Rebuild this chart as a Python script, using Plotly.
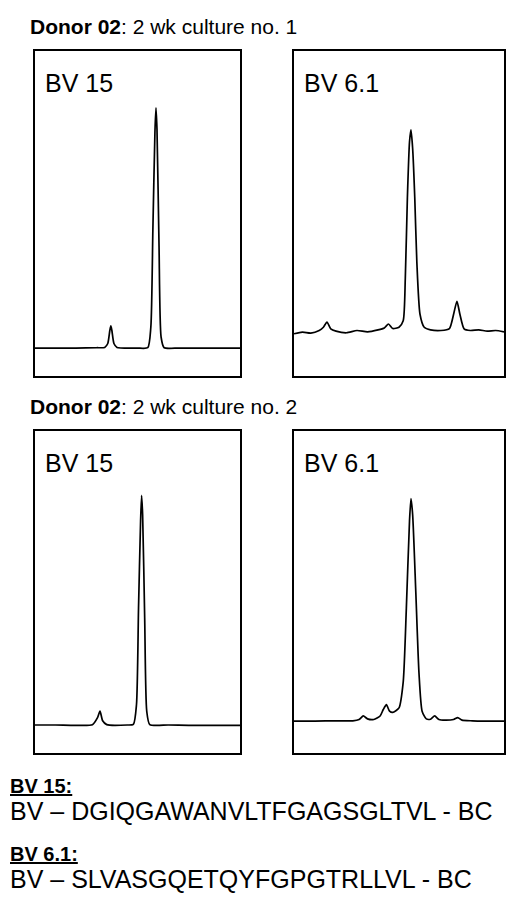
import plotly.graph_objects as go

W, H = 520, 911

# trace data (x: relative size position 0-100, y: relative intensity 0-100)
p1_x = [0,10,20,30,34,35.5,36.5,37,37.5,38.5,40,50,55,56.5,57.5,58.5,59,59.5,60.5,61.5,63,70,80,90,100]
p1_y = [8.6,8.6,8.6,8.7,8.8,10,14,15.4,14,10,8.8,8.6,8.7,15,45,75,82.5,76,40,12,8.7,8.6,8.6,8.6,8.6]

p2_x = [0,4,8,12,14,15.7,17.5,20,25,30,35,40,43,45,47,50,52,53,54,55,55.7,56.5,57.5,58.5,60,62,65,70,74,76,77.6,79,81,84,88,92,96,100]
p2_y = [13,13.5,13.2,14,15,16.6,14.5,13.8,13.3,14,13.6,14.2,14.8,16,14.6,15,17,30,55,72,75.7,70,55,35,19,15,14.2,14,14.6,19,23,19,14.5,14,14.2,13.8,14,13.6]

p3_x = [0,10,20,28,30.5,31.7,33,35,45,48,49.5,50.5,51.5,52,52.5,53.5,54.5,56,65,75,85,100]
p3_y = [8.7,8.7,8.6,8.8,11,13,10,8.8,8.7,8.9,15,45,72,80,74,42,13,8.8,8.7,8.6,8.6,8.6]

p4_x = [0,10,20,28,31,33,35,38,41,42.5,44,45.5,47,50,52,53.5,55,55.7,56.5,58,59.5,61,63,65,67,69,72,76,78,80,85,90,100]
p4_y = [9.9,9.9,10,10,10.4,11.5,10.6,10.4,11.5,13.5,15,13,12.6,14,22,45,72,79,74,50,25,13,10.6,10.5,11.5,10.4,10.2,10.4,11,10.2,10,9.9,9.9]

panels = [
    (p1_x, p1_y, "BV 15", (27, 232), (43, 368)),
    (p2_x, p2_y, "BV 6.1", (286, 496), (43, 368)),
    (p3_x, p3_y, "BV 15", (27, 232), (423, 745)),
    (p4_x, p4_y, "BV 6.1", (286, 496), (423, 745)),
]

FONT = "Liberation Sans, Arial, sans-serif"
fig = go.Figure()
layout = dict(width=W, height=H, margin=dict(l=0, r=0, t=0, b=0),
              paper_bgcolor="white", plot_bgcolor="white", showlegend=False,
              font=dict(family=FONT, color="black"))
annotations = []
for i, (xs, ys, lab, (x0, x1), (y0, y1)) in enumerate(panels, start=1):
    sfx = "" if i == 1 else str(i)
    fig.add_trace(go.Scatter(x=xs, y=ys, mode="lines", line=dict(color="black", width=1.7, shape="spline", smoothing=0.6),
                             xaxis="x" + sfx, yaxis="y" + sfx, hoverinfo="skip"))
    ax = dict(range=[0, 100], showgrid=False, zeroline=False, showticklabels=False,
              ticks="", showline=True, linecolor="black", linewidth=1.5, mirror=True, fixedrange=True)
    layout["xaxis" + sfx] = dict(ax, domain=[x0 / W, x1 / W], anchor="y" + sfx)
    layout["yaxis" + sfx] = dict(ax, domain=[1 - y1 / H, 1 - y0 / H], anchor="x" + sfx)
    annotations.append(dict(text=lab, xref="paper", yref="paper", x=(x0 + 8) / W, y=1 - (y0 + 32) / H,
                            xanchor="left", yanchor="middle", showarrow=False, font=dict(size=25)))

texts = [
    ("<b>Donor 02</b>: 2 wk culture no. 1", 20, 18, 21),
    ("<b>Donor 02</b>: 2 wk culture no. 2", 20, 398, 21),
    ("<b><u>BV 15:</u></b>", 0, 778, 20),
    ("BV – DGIQGAWANVLTFGAGSGLTVL - BC", 0, 803, 25),
    ("<b><u>BV 6.1:</u></b>", 0, 846, 20),
    ("BV – SLVASGQETQYFGPGTRLLVL - BC", 0, 871, 25),
]
for t, x, y, s in texts:
    annotations.append(dict(text=t, xref="paper", yref="paper", x=x / W, y=1 - y / H,
                            xanchor="left", yanchor="middle", showarrow=False, font=dict(size=s)))
layout["annotations"] = annotations
fig.update_layout(**layout)
fig.write_html("out.html")
